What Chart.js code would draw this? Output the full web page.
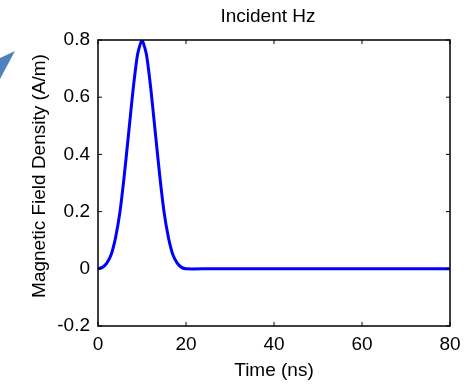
<!DOCTYPE html>
<html>
<head>
<meta charset="utf-8">
<script src="https://cdn.jsdelivr.net/npm/chart.js@4"></script>
<style>
  html, body { margin: 0; padding: 0; background: #fff; }
  #box { width: 473px; height: 384px; }
</style>
</head>
<body>
<div id="box"><canvas id="myChart"></canvas></div>
<script>
const timeNs = [0,1,2,3,4,5,6,7,8,9,10,11,12,13,14,15,16,17,18,19,20,25,30,35,40,45,50,55,60,65,70,75,80];
const hzValues = [0,0.005,0.02,0.05,0.11,0.2,0.33,0.48,0.63,0.75,0.8,0.75,0.63,0.48,0.33,0.2,0.11,0.05,0.02,0.005,0,0,0,0,0,0,0,0,0,0,0,0,0];
const xTicks = [0, 20, 40, 60, 80];
const yTicks = [-0.2, 0, 0.2, 0.4, 0.6, 0.8];
const chartTitle = "Incident Hz";
const xTitle = "Time (ns)";
const yTitle = "Magnetic Field Density (A/m)";

const FONT = "'Liberation Sans', Arial, sans-serif";

// box, inward ticks, titles and the little blue triangle
const matlabBox = {
  id: "matlabBox",
  afterDraw(chart) {
    const ctx = chart.ctx;
    const a = chart.chartArea;
    const xs = chart.scales.x;
    const ys = chart.scales.y;
    ctx.save();
    ctx.strokeStyle = "#000";
    ctx.lineWidth = 1.5;
    ctx.strokeRect(a.left, a.top, a.right - a.left, a.bottom - a.top);
    ctx.lineWidth = 1;
    xTicks.forEach((v) => {
      const px = xs.getPixelForValue(v);
      ctx.beginPath();
      ctx.moveTo(px, a.bottom); ctx.lineTo(px, a.bottom - 4);
      ctx.moveTo(px, a.top); ctx.lineTo(px, a.top + 4);
      ctx.stroke();
    });
    yTicks.forEach((v) => {
      const py = ys.getPixelForValue(v);
      ctx.beginPath();
      ctx.moveTo(a.left, py); ctx.lineTo(a.left + 4, py);
      ctx.moveTo(a.right, py); ctx.lineTo(a.right - 4, py);
      ctx.stroke();
    });
    ctx.fillStyle = "#000";
    ctx.font = "19px " + FONT;
    ctx.textAlign = "center";
    ctx.textBaseline = "middle";
    ctx.fillText(chartTitle, 268, 17);

    ctx.translate(40, 176);
    ctx.rotate(-Math.PI / 2);
    ctx.fillText(yTitle, 0, 0);
    ctx.setTransform(1, 0, 0, 1, 0, 0);

    ctx.fillStyle = "#4f81bd";
    ctx.beginPath();
    ctx.moveTo(0, 58);
    ctx.lineTo(15, 51);
    ctx.lineTo(0, 79);
    ctx.closePath();
    ctx.fill();
    ctx.restore();
  }
};

const ctx = document.getElementById("myChart").getContext("2d");
const myChart = new Chart(ctx, {
  type: "line",
  data: {
    labels: timeNs,
    datasets: [
      {
        data: timeNs.map((t, i) => ({ x: t, y: hzValues[i] })),
        borderColor: "#0000ff",
        borderWidth: 3,
        pointRadius: 0,
        tension: 0.2,
        fill: false,
      },
    ],
  },
  options: {
    responsive: true,
    maintainAspectRatio: false,
    animation: false,
    layout: { padding: { left: 0, right: 23, top: 40, bottom: 0 } },
    plugins: { legend: { display: false }, tooltip: { enabled: false } },
    scales: {
      x: {
        type: "linear",
        min: 0,
        max: 80,
        afterBuildTicks: (s) => { s.ticks = xTicks.map((v) => ({ value: v })); },
        afterFit: (s) => { s.height = 58; },
        grid: { display: false, drawTicks: false },
        border: { display: false },
        ticks: { color: "#000", font: { size: 19, family: FONT }, padding: 7, maxRotation: 0 },
        title: { display: true, text: xTitle, color: "#000", font: { size: 19, family: FONT }, padding: { bottom: 2 } },
      },
      y: {
        min: -0.2,
        max: 0.8,
        afterBuildTicks: (s) => { s.ticks = yTicks.map((v) => ({ value: v })); },
        afterFit: (s) => { s.width = 98; },
        grid: { display: false, drawTicks: false },
        border: { display: false },
        ticks: { color: "#000", font: { size: 19, family: FONT }, padding: 8,
          callback: (v) => String(Math.round(v * 10) / 10) },
      },
    },
  },
  plugins: [matlabBox],
});
</script>
</body>
</html>
